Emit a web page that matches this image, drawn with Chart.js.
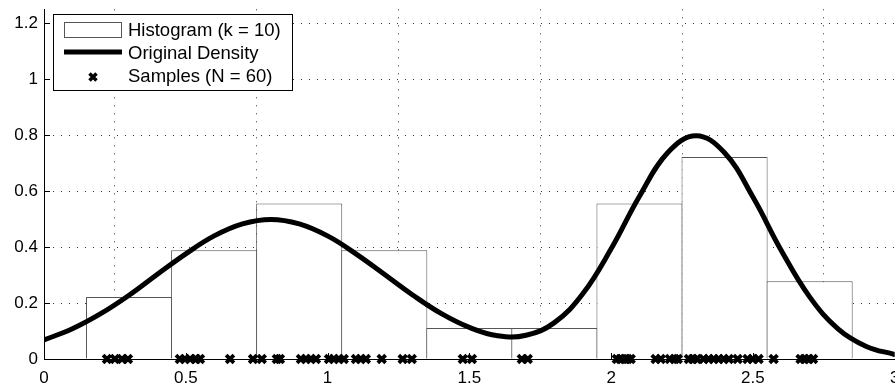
<!DOCTYPE html>
<html><head><meta charset="utf-8">
<script src="https://cdn.jsdelivr.net/npm/chart.js@4"></script>
<style>
html,body{margin:0;padding:0;background:#fff;overflow:hidden;width:895px;height:389px;}
#wrap{position:absolute;left:0;top:0;width:904px;height:389px;}
</style></head><body>
<div id="wrap"><canvas id="c"></canvas></div>
<script>
// Histogram (k = 10): bin centres and normalised heights
const binCenters = [0.3, 0.6, 0.9, 1.2, 1.5, 1.8, 2.1, 2.4, 2.7];
const binHeights = [0.222, 0.389, 0.556, 0.389, 0.111, 0.111, 0.556, 0.722, 0.278];
// Original density curve, read at 0.1 steps
const densityX = [0,0.1,0.2,0.3,0.4,0.5,0.6,0.7,0.8,0.9,1.0,1.1,1.2,1.3,1.4,1.5,1.6,1.7,1.8,1.9,2.0,2.1,2.2,2.3,2.4,2.5,2.6,2.7,2.8,2.9,3.0];
const densityY = [0.068,0.108,0.162,0.228,0.303,0.376,0.440,0.483,0.499,0.483,0.440,0.376,0.303,0.229,0.163,0.113,0.083,0.085,0.130,0.233,0.394,0.582,0.738,0.798,0.737,0.579,0.388,0.222,0.108,0.045,0.016];
// Samples (N = 60)
const samples = [0.222,0.250,0.275,0.296,
  0.479,0.497,0.515,0.536,0.550,0.656,0.737,
  0.768,0.821,0.832,0.906,0.924,0.941,0.959,1.005,1.022,1.040,
  1.057,1.100,1.117,1.135,1.191,1.265,1.297,
  1.477,1.509,
  1.685,1.706,
  2.020,2.033,2.048,2.058,2.069,2.157,2.175,2.207,2.224,2.235,
  2.274,2.288,2.302,2.326,2.344,2.362,2.379,2.397,2.415,2.446,2.481,2.499,2.520,
  2.573,2.668,2.682,2.697,2.712];
const xTicks = [0, 0.5, 1, 1.5, 2, 2.5, 3];
const xTickLabels = ['0', '0.5', '1', '1.5', '2', '2.5', '3'];
const yTicks = [0, 0.2, 0.4, 0.6, 0.8, 1, 1.2];
const yTickLabels = ['0', '0.2', '0.4', '0.6', '0.8', '1', '1.2'];
const legendLabels = ['Histogram (k = 10)', 'Original Density', 'Samples (N = 60)'];

const FONT = 'Liberation Sans, Arial, Helvetica, sans-serif';

const innerTicks = {
  id: 'innerTicks',
  afterDatasetsDraw(chart) {
    const ctx = chart.ctx, a = chart.chartArea;
    const xs = chart.scales.x, ys = chart.scales.y;
    ctx.save();
    ctx.strokeStyle = '#000';
    ctx.lineWidth = 1;
    ctx.beginPath();
    yTicks.forEach(v => {
      const y = Math.round(ys.getPixelForValue(v)) + 0.5;
      ctx.moveTo(a.left, y); ctx.lineTo(a.left + 6, y);
    });
    xTicks.forEach(v => {
      const x = Math.round(xs.getPixelForValue(v)) + 0.5;
      ctx.moveTo(x, a.bottom); ctx.lineTo(x, a.bottom - 6);
    });
    ctx.stroke();
    ctx.restore();
  }
};

const legendBox = {
  id: 'legendBox',
  afterDraw(chart) {
    const ctx = chart.ctx;
    ctx.save();
    ctx.fillStyle = '#fff';
    ctx.strokeStyle = '#000';
    ctx.lineWidth = 1;
    ctx.fillRect(53.5, 14.5, 239, 76);
    ctx.strokeRect(53.5, 14.5, 239, 76);
    ctx.strokeStyle = '#555';
    ctx.strokeRect(64.5, 22.5, 57, 15);
    ctx.strokeStyle = '#000';
    ctx.lineWidth = 5;
    ctx.beginPath(); ctx.moveTo(64, 52); ctx.lineTo(122, 52); ctx.stroke();
    ctx.lineWidth = 3.5;
    const mx = 93, my = 77, r = 3.5;
    ctx.beginPath();
    ctx.moveTo(mx - r, my - r); ctx.lineTo(mx + r, my + r);
    ctx.moveTo(mx + r, my - r); ctx.lineTo(mx - r, my + r);
    ctx.stroke();
    ctx.fillStyle = '#000';
    ctx.font = '18.5px ' + FONT;
    ctx.textAlign = 'left';
    ctx.textBaseline = 'middle';
    const rows = [30.5, 53.5, 77];
    legendLabels.forEach((t, i) => ctx.fillText(t, 128, rows[i]));
    ctx.restore();
  }
};

new Chart(document.getElementById('c'), {
  data: {
    datasets: [
      {
        type: 'line',
        label: legendLabels[1],
        data: densityX.map((x, i) => ({x, y: densityY[i]})),
        borderColor: '#000',
        borderWidth: 5,
        pointRadius: 0,
        tension: 0.4,
        borderCapStyle: 'round',
        order: 1
      },
      {
        type: 'bar',
        label: legendLabels[0],
        data: binCenters.map((x, i) => ({x, y: binHeights[i]})),
        backgroundColor: '#fff',
        borderColor: '#555',
        borderWidth: {top: 1, left: 1, right: 1, bottom: 0},
        borderSkipped: false,
        barPercentage: 1.012,
        categoryPercentage: 1,
        grouped: false,
        order: 3
      },
      {
        type: 'scatter',
        label: legendLabels[2],
        data: samples.map(x => ({x, y: 0})),
        pointStyle: 'crossRot',
        pointRadius: 5.5,
        borderColor: '#000',
        borderWidth: 3.8,
        clip: false,
        order: 0
      }
    ]
  },
  options: {
    responsive: true,
    maintainAspectRatio: false,
    animation: false,
    layout: {padding: {top: 5, left: 0, right: 0, bottom: 0}},
    plugins: {legend: {display: false}, tooltip: {enabled: false}},
    scales: {
      x: {
        type: 'linear',
        min: 0, max: 3,
        offset: false,
        afterBuildTicks: s => { s.ticks = xTicks.map(v => ({value: v})); },
        afterFit: s => { s.height = 30; s.paddingLeft = 0; s.paddingRight = 0; },
        ticks: {
          color: '#000',
          font: {family: FONT, size: 17},
          padding: 9,
          maxRotation: 0,
          autoSkip: false,
          callback: v => xTickLabels[xTicks.indexOf(v)]
        },
        grid: {color: 'rgba(0,0,0,0.8)', lineWidth: 1, drawTicks: false},
        border: {display: true, color: '#000', width: 1, dash: [1, 7]}
      },
      y: {
        type: 'linear',
        min: 0, max: 1.25,
        afterBuildTicks: s => { s.ticks = yTicks.map(v => ({value: v})); },
        afterFit: s => { s.width = 44; s.paddingTop = 0; s.paddingBottom = 0; },
        ticks: {
          color: '#000',
          font: {family: FONT, size: 17},
          padding: 6,
          autoSkip: false,
          callback: v => yTickLabels[yTicks.indexOf(v)]
        },
        grid: {color: 'rgba(0,0,0,0.8)', lineWidth: 1, drawTicks: false},
        border: {display: true, color: '#000', width: 1, dash: [1, 7]}
      }
    }
  },
  plugins: [innerTicks, legendBox]
});
</script>
</body></html>
